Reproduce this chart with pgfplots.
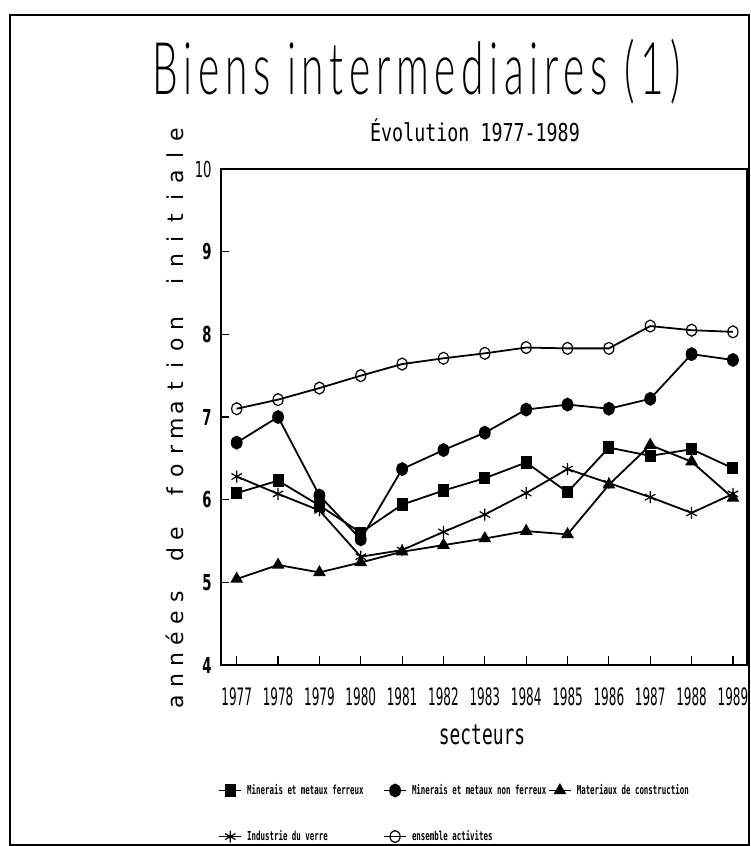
\documentclass[border=0pt]{standalone}
\usepackage{fontspec}
\usepackage{graphicx}
\usepackage{pgfplots}
\pgfplotsset{compat=1.18}
\setmainfont{DejaVu Sans}
\newfontfamily\titlefont[LetterSpace=14]{Lato Light}
\newfontfamily\subfont[FakeStretch=0.745]{DejaVu Sans Mono}
\newfontfamily\xtickfont[FakeStretch=0.5]{DejaVu Sans}
\newfontfamily\ytickfont[FakeStretch=0.6]{DejaVu Sans Bold}
\newfontfamily\ytickfontlight[FakeStretch=0.6]{DejaVu Sans}
\newfontfamily\secfont[FakeStretch=0.64]{DejaVu Sans Mono}
\newfontfamily\legfont[FakeStretch=0.6]{DejaVu Sans Mono Bold}
\newfontfamily\ylfont{DejaVu Sans}
\newcommand\Lt[1]{\makebox[10.5pt]{#1}}
\newcommand\legentry[1]{\makebox[65.5pt][l]{\rule[-1.5pt]{0pt}{6pt}#1}}
\pgfplotstableread{
year ferreux nonferreux materiaux verre ensemble
1977 6.08 6.69 5.04 6.28 7.10
1978 6.23 7.00 5.21 6.07 7.21
1979 5.93 6.05 5.12 5.87 7.35
1980 5.60 5.52 5.24 5.31 7.50
1981 5.94 6.37 5.37 5.39 7.64
1982 6.11 6.60 5.45 5.61 7.71
1983 6.26 6.81 5.53 5.82 7.77
1984 6.45 7.09 5.62 6.08 7.84
1985 6.09 7.15 5.58 6.37 7.83
1986 6.63 7.10 6.18 6.20 7.83
1987 6.53 7.22 6.66 6.03 8.10
1988 6.61 7.76 6.46 5.84 8.05
1989 6.38 7.69 6.02 6.07 8.03
}\datatable
\begin{document}
\begin{tikzpicture}
\path[use as bounding box] (0pt,0pt) rectangle (375pt,423pt);
\draw[line width=1pt] (5pt,0.5pt) rectangle (374.5pt,415.5pt);
\node[anchor=base west,inner sep=0pt] at (76pt,375.5pt) {\resizebox{264pt}{\height}{\fontsize{36.3pt}{40pt}\titlefont Biens intermediaires (1)}};
\node[anchor=base,inner sep=0pt] at (237.5pt,352pt) {\fontsize{12.3pt}{14pt}\subfont Évolution 1977-1989};
\node[rotate=90,inner sep=0pt] at (87.5pt,214pt) {\fontsize{11pt}{13pt}\ylfont\Lt{a}\Lt{n}\Lt{n}\Lt{é}\Lt{e}\Lt{s}\Lt{}\Lt{d}\Lt{e}\Lt{}\Lt{f}\Lt{o}\Lt{r}\Lt{m}\Lt{a}\Lt{t}\Lt{i}\Lt{o}\Lt{n}\Lt{}\Lt{i}\Lt{n}\Lt{i}\Lt{t}\Lt{i}\Lt{a}\Lt{l}\Lt{e}};
\node[anchor=base,inner sep=0pt] at (241pt,50.5pt) {\fontsize{14pt}{16pt}\secfont secteurs};
\begin{axis}[
  at={(110.25pt,90.5pt)}, anchor=south west,
  scale only axis, width=263.25pt, height=248pt,
  xmin=1976.608, xmax=1989.34, ymin=4, ymax=10,
  xtick={1977,1978,...,1989}, ytick={4,5,...,10},
  yticklabels={4,5,6,7,8,9,{\ytickfontlight 10}},
  tick align=inside, tick pos=left,
  major tick length=4.5pt,
  axis line style={line width=1pt},
  every tick/.style={line width=0.6pt,black},
  x tick label style={/pgf/number format/1000 sep={}, font=\fontsize{12pt}{14pt}\xtickfont, inner sep=0pt, yshift=-11pt},
  y tick label style={font=\fontsize{11pt}{13pt}\ytickfont, inner sep=0pt, xshift=-4.25pt},
  /pgf/number format/assume math mode=true,
  every axis plot/.append style={line width=0.9pt, black},
  legend image code/.code={\draw[mark repeat=2,mark phase=2,#1] plot coordinates {(0pt,0pt)(5.5pt,0pt)(11pt,0pt)};},
  legend columns=3,
  legend cell align=left,
  legend style={at={(axis description cs:-0.00475,-0.239)}, anchor=north west, draw=none, fill=none, inner sep=0pt,
    font=\fontsize{6.2pt}{7pt}\legfont,
    nodes={inner sep=0pt},
    /tikz/column sep=2.5pt, /tikz/row sep=16.5pt},
]
\addplot[mark=square*, mark size=2.3pt, mark options={yscale=1.15, solid}] table[x=year,y=ferreux]{\datatable};
\addlegendentry{\legentry{Minerais et metaux ferreux}}
\addplot[mark=*, mark size=2.5pt, mark options={yscale=1.2, solid}] table[x=year,y=nonferreux]{\datatable};
\addlegendentry{\legentry{Minerais et metaux non ferreux}}
\addplot[mark=triangle*, mark size=2.8pt, mark options={solid}] table[x=year,y=materiaux]{\datatable};
\addlegendentry{\rule[-1.5pt]{0pt}{6pt}Materiaux de construction}
\addplot[mark=asterisk, mark size=3pt, mark options={solid, line width=0.6pt}] table[x=year,y=verre]{\datatable};
\addlegendentry{\legentry{Industrie du verre}}
\addplot[mark=o, mark size=2.5pt, mark options={yscale=1.2, solid, fill=white, line width=0.6pt}] table[x=year,y=ensemble]{\datatable};
\addlegendentry{\legentry{ensemble activites}}
\end{axis}
\end{tikzpicture}
\end{document}
